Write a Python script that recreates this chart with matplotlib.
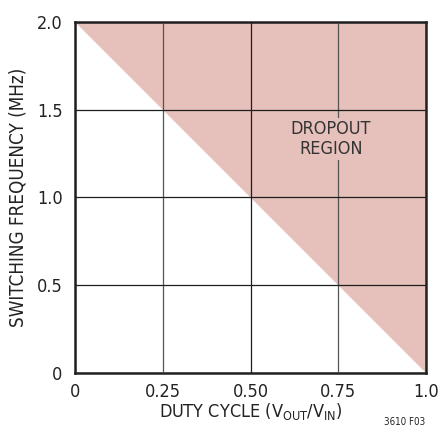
import matplotlib
matplotlib.use("Agg")
import matplotlib.pyplot as plt

plt.rcParams['font.family'] = ['Liberation Sans Narrow', 'DejaVu Sans']
plt.rcParams['font.stretch'] = 'condensed'
plt.rcParams['mathtext.fontset'] = 'custom'
plt.rcParams['mathtext.rm'] = 'DejaVu Sans:stretch=condensed'

# dropout boundary
duty = [0.0, 1.0]
freq_edge = [2.0, 0.0]
freq_top = [2.0, 2.0]

xticks = [0, 0.25, 0.50, 0.75, 1.0]
xlabels = ['0', '0.25', '0.50', '0.75', '1.0']
yticks = [0, 0.5, 1.0, 1.5, 2.0]
ylabels = ['0', '0.5', '1.0', '1.5', '2.0']

fill = '#e6c0bb'

fig = plt.figure(figsize=(4.42, 4.37), dpi=100)
ax = fig.add_axes([0.1697, 0.1465, 0.7941, 0.8032])

ax.fill_between(duty, freq_edge, freq_top, color=fill, lw=0, zorder=0)

ax.set_xlim(0, 1)
ax.set_ylim(0, 2)
ax.set_xticks(xticks)
ax.set_xticklabels(xlabels)
ax.set_yticks(yticks)
ax.set_yticklabels(ylabels)
ax.grid(True, color='#1e1e1e', lw=0.9)
# the quarter lines print a bit lighter
for i in (1, 3):
    ax.get_xgridlines()[i].set_color('#555555')
ax.set_axisbelow(False)
ax.tick_params(length=0, labelsize=13, colors='#222222')
ax.tick_params(axis='x', pad=7)
ax.tick_params(axis='y', pad=9)
for s in ax.spines.values():
    s.set_linewidth(1.8)
    s.set_color('#222222')

ax.set_xlabel('DUTY CYCLE (V$_{\\mathrm{OUT}}$/V$_{\\mathrm{IN}}$)', fontsize=13, color='#222222', labelpad=0)
ax.set_ylabel('SWITCHING FREQUENCY (MHz)', fontsize=13.5, color='#222222', labelpad=7)

ax.text(0.729, 1.333, 'DROPOUT\nREGION', ha='center', va='center', fontsize=13,
        color='#333333', linespacing=1.1,
        bbox=dict(facecolor=fill, edgecolor='none', pad=1.5))

fig.text(0.963, 0.035, '3610 F03', fontsize=7, ha='right', va='center', color='#222222')

fig.savefig('out.png', dpi=100)
